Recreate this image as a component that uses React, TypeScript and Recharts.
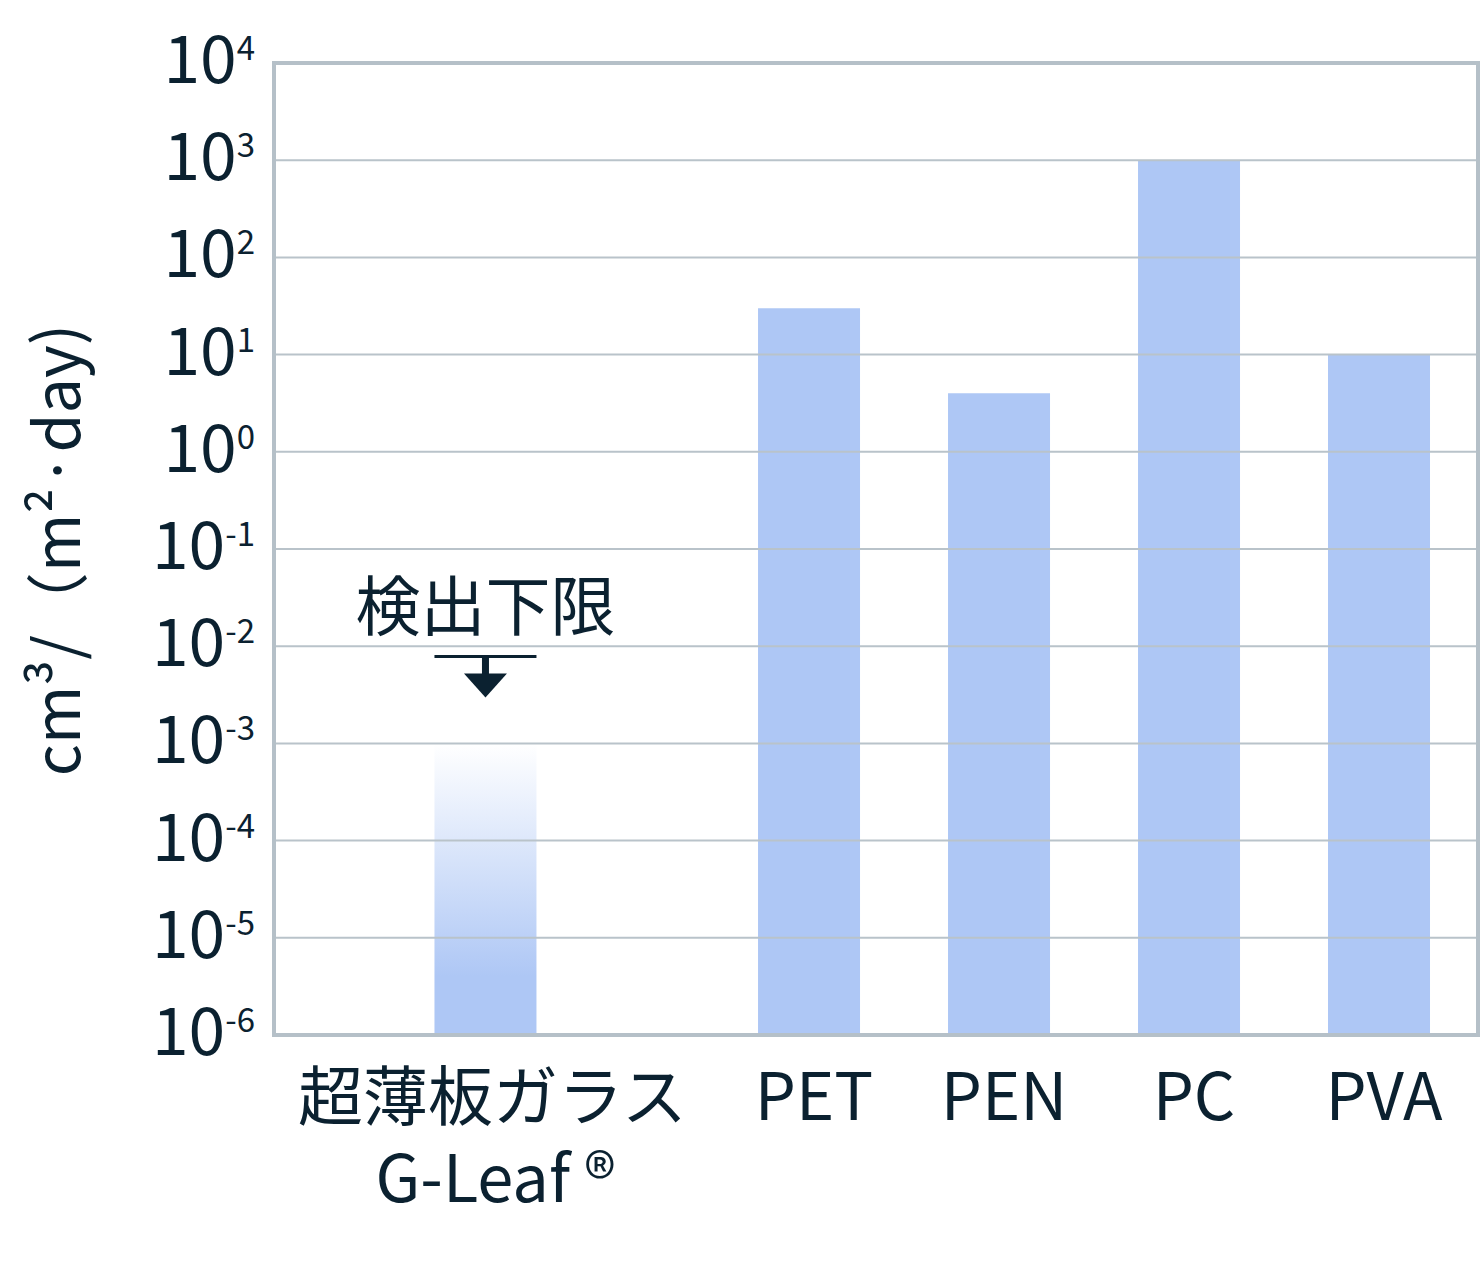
import React from 'react';
import { BarChart, Bar, XAxis, YAxis, ReferenceLine, Cell } from 'recharts';

// materials, and where each bar sits along the x axis (slot units)
const categories = ['超薄板ガラス', 'PET', 'PEN', 'PC', 'PVA'];
const subLabels = ['G-Leaf ®', '', '', '', ''];
const positions = [1.113, 2.816, 3.816, 4.816, 5.816];
const X_MAX = 6.337;

// oxygen transmission rate, cm3/(m2·day)
const rates = [0.001, 30, 4, 1000, 10];

const yTicks = [1e-6, 1e-5, 1e-4, 1e-3, 1e-2, 1e-1, 1, 10, 100, 1000, 10000];

const FONT = '"Noto Sans CJK JP", "Noto Sans", sans-serif';
const INK = '#0b2130';
const BAR = '#aec7f5';
const GRID = '#b9c3ca';
const FRAME = '#b5c0c8';

const data = categories.map((name, i) => ({ name, pos: positions[i], rate: rates[i] }));

const YTick = (props: any) => {
  const { x, y, payload } = props;
  const exp = Math.round(Math.log10(payload.value));
  return (
    <text x={x} y={y + 20} textAnchor="end" fill={INK} fontFamily={FONT} fontSize={66}>
      10
      <tspan fontSize={33} dy={-23}>{exp}</tspan>
    </text>
  );
};

const XTick = (props: any) => {
  const { x, y, payload } = props;
  const i = positions.indexOf(payload.value);
  if (i < 0) return null;
  const sub = subLabels[i];
  return (
    <text y={y + 85} textAnchor="middle" fill={INK} fontFamily={FONT} fontSize={65}>
      <tspan x={x + (sub ? 7 : 5)}>{categories[i]}</tspan>
      {sub && (
        <tspan x={x + 10} dy={82}>
          {sub}
        </tspan>
      )}
    </text>
  );
};

// "detection limit" marker drawn above the G-Leaf bar
const LimitMark = (props: any) => {
  const { x, y, width, index } = props;
  if (index !== 0) return null;
  const cx = x + width / 2;
  return (
    <g>
      <text x={cx} y={y - 113} textAnchor="middle" fill={INK} fontFamily={FONT} fontSize={65}>
        検出下限
      </text>
      <line x1={x} x2={x + width} y1={y - 87} y2={y - 87} stroke={INK} strokeWidth={3} />
      <rect x={cx - 3.5} y={y - 87} width={7} height={18} fill={INK} />
      <polygon points={`${cx - 21.5},${y - 70} ${cx + 21.5},${y - 70} ${cx},${y - 46}`} fill={INK} />
    </g>
  );
};

const YLabel = (props: any) => {
  const { viewBox } = props;
  const cx = 80;
  const cy = viewBox.y + 487;
  return (
    <text
      x={cx}
      y={cy}
      transform={`rotate(-90, ${cx}, ${cy})`}
      textAnchor="middle"
      fill={INK}
      fontFamily={FONT}
      fontSize={63}
    >
      cm³/（m²·day)
    </text>
  );
};

export default function App() {
  return (
    <div style={{ position: 'absolute', left: 0, top: 0, width: 1480, height: 1272, background: '#fff' }}>
      <BarChart width={1480} height={1272} data={data} margin={{ top: 63, right: 2, bottom: 0, left: 74 }}>
        <defs>
          <linearGradient id="fade" x1="0" y1="0" x2="0" y2="1">
            <stop offset="0" stopColor="#ffffff" />
            <stop offset="0.8" stopColor={BAR} />
            <stop offset="1" stopColor={BAR} />
          </linearGradient>
        </defs>
        <XAxis
          dataKey="pos"
          type="number"
          domain={[0, X_MAX]}
          ticks={positions}
          allowDataOverflow
          interval={0}
          axisLine={false}
          tickLine={false}
          tickSize={0}
          tickMargin={0}
          height={237}
          tick={<XTick />}
        />
        <YAxis
          scale="log"
          domain={[1e-6, 1e4]}
          ticks={yTicks}
          allowDataOverflow
          interval={0}
          axisLine={false}
          tickLine={false}
          tickSize={0}
          tickMargin={19}
          width={200}
          tick={<YTick />}
          label={<YLabel />}
        />
        <Bar dataKey="rate" barSize={102} fill={BAR} isAnimationActive={false} label={<LimitMark />}>
          {data.map((d, i) => (
            <Cell key={d.name} fill={i === 0 ? 'url(#fade)' : BAR} />
          ))}
        </Bar>
        {yTicks.slice(1, -1).map((t) => (
          <ReferenceLine key={t} y={t} stroke={GRID} strokeWidth={2} />
        ))}
        <ReferenceLine y={1e4} stroke={FRAME} strokeWidth={4} strokeLinecap="square" ifOverflow="visible" />
        <ReferenceLine y={1e-6} stroke={FRAME} strokeWidth={4} strokeLinecap="square" ifOverflow="visible" />
        <ReferenceLine x={0} stroke={FRAME} strokeWidth={4} strokeLinecap="square" ifOverflow="visible" />
        <ReferenceLine x={X_MAX} stroke={FRAME} strokeWidth={4} strokeLinecap="square" ifOverflow="visible" />
      </BarChart>
    </div>
  );
}
